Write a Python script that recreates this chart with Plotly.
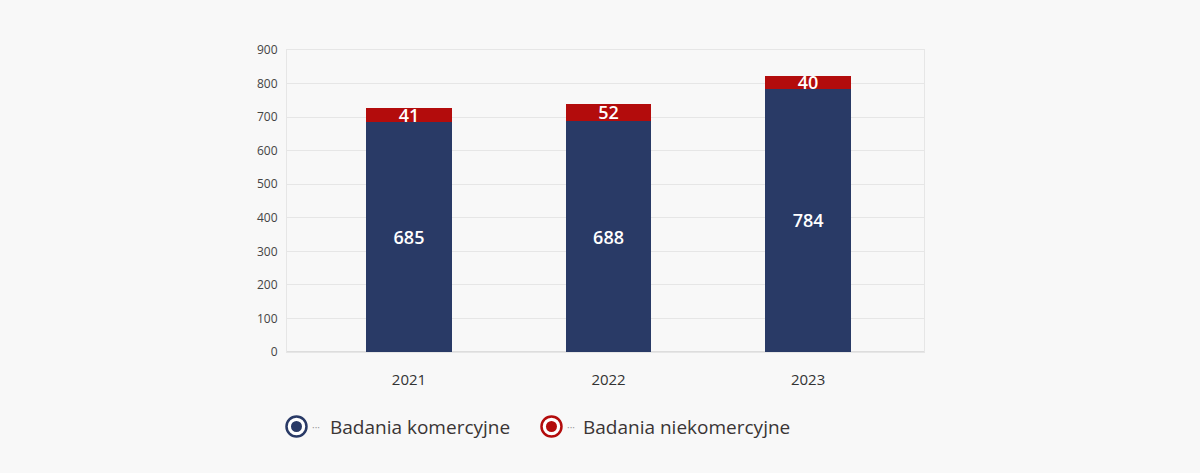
import plotly.graph_objects as go

years = ["2021", "2022", "2023"]
komercyjne = [685, 688, 784]
niekomercyjne = [41, 52, 40]
y_ticks = [0, 100, 200, 300, 400, 500, 600, 700, 800, 900]

navy = "#293a66"
red = "#b30c0c"
bg = "#f8f8f8"
font = "Open Sans"

fig = go.Figure()
fig.add_trace(go.Bar(x=years, y=komercyjne, name="Badania komercyjne",
                     marker=dict(color=navy, line=dict(width=0)), width=0.43,
                     text=komercyjne, textposition="inside", insidetextanchor="middle",
                     textangle=0,
                     textfont=dict(color="white", size=18, family=font, weight=600)))
fig.add_trace(go.Bar(x=years, y=niekomercyjne, name="Badania niekomercyjne",
                     marker=dict(color=red, line=dict(width=0)), width=0.43,
                     text=niekomercyjne, textposition="inside", insidetextanchor="middle",
                     textangle=0,
                     textfont=dict(color="white", size=18, family=font, weight=600)))

# legenda rysowana recznie (kolko z kropka)
legend_items = [(0.0149, 0.0675, navy, "Badania komercyjne"),
                (0.4152, 0.4647, red, "Badania niekomercyjne")]
ly = -0.2467
shapes = []
annotations = []
for cx, tx, col, label in legend_items:
    shapes.append(dict(type="circle", xref="paper", yref="paper",
                       xsizemode="pixel", ysizemode="pixel", xanchor=cx, yanchor=ly,
                       x0=-10, x1=10, y0=-10, y1=10,
                       fillcolor="white", line=dict(color=col, width=2.5)))
    shapes.append(dict(type="circle", xref="paper", yref="paper",
                       xsizemode="pixel", ysizemode="pixel", xanchor=cx, yanchor=ly,
                       x0=-5.5, x1=5.5, y0=-5.5, y1=5.5,
                       fillcolor=col, line=dict(width=0)))
    annotations.append(dict(xref="paper", yref="paper", x=cx, y=ly, text="···",
                            showarrow=False, xanchor="left", yanchor="middle",
                            xshift=14, font=dict(size=10, color="#999", family=font)))
    annotations.append(dict(xref="paper", yref="paper", x=tx, y=ly, text=label,
                            showarrow=False, xanchor="left", yanchor="middle",
                            xshift=-2,
                            font=dict(size=19, color="#3a3535", family=font)))

fig.update_layout(
    width=1200, height=473,
    barmode="stack",
    showlegend=False,
    paper_bgcolor=bg, plot_bgcolor=bg,
    margin=dict(l=287, r=276, t=50, b=121),
    font=dict(family=font, color="#444"),
    shapes=shapes,
    annotations=annotations,
    uniformtext=dict(minsize=17, mode="show"),
)
fig.update_xaxes(range=[-0.6115, 2.581], showgrid=False, showline=True,
                 linecolor="#e6e6e6", mirror=True, ticks="",
                 tickfont=dict(size=15, color="#333", family=font),
                 ticklabelstandoff=14)
fig.update_yaxes(range=[0, 900], tickvals=y_ticks, gridcolor="#e6e6e6",
                 showline=True, linecolor="#e6e6e6", mirror=True,
                 zeroline=True, zerolinecolor="#dddddd", zerolinewidth=2,
                 tickfont=dict(size=12, color="#444", family=font),
                 ticklabelstandoff=6)

fig.write_html("out.html", config={"displayModeBar": False},
               post_script="document.body.style.margin='0';")
